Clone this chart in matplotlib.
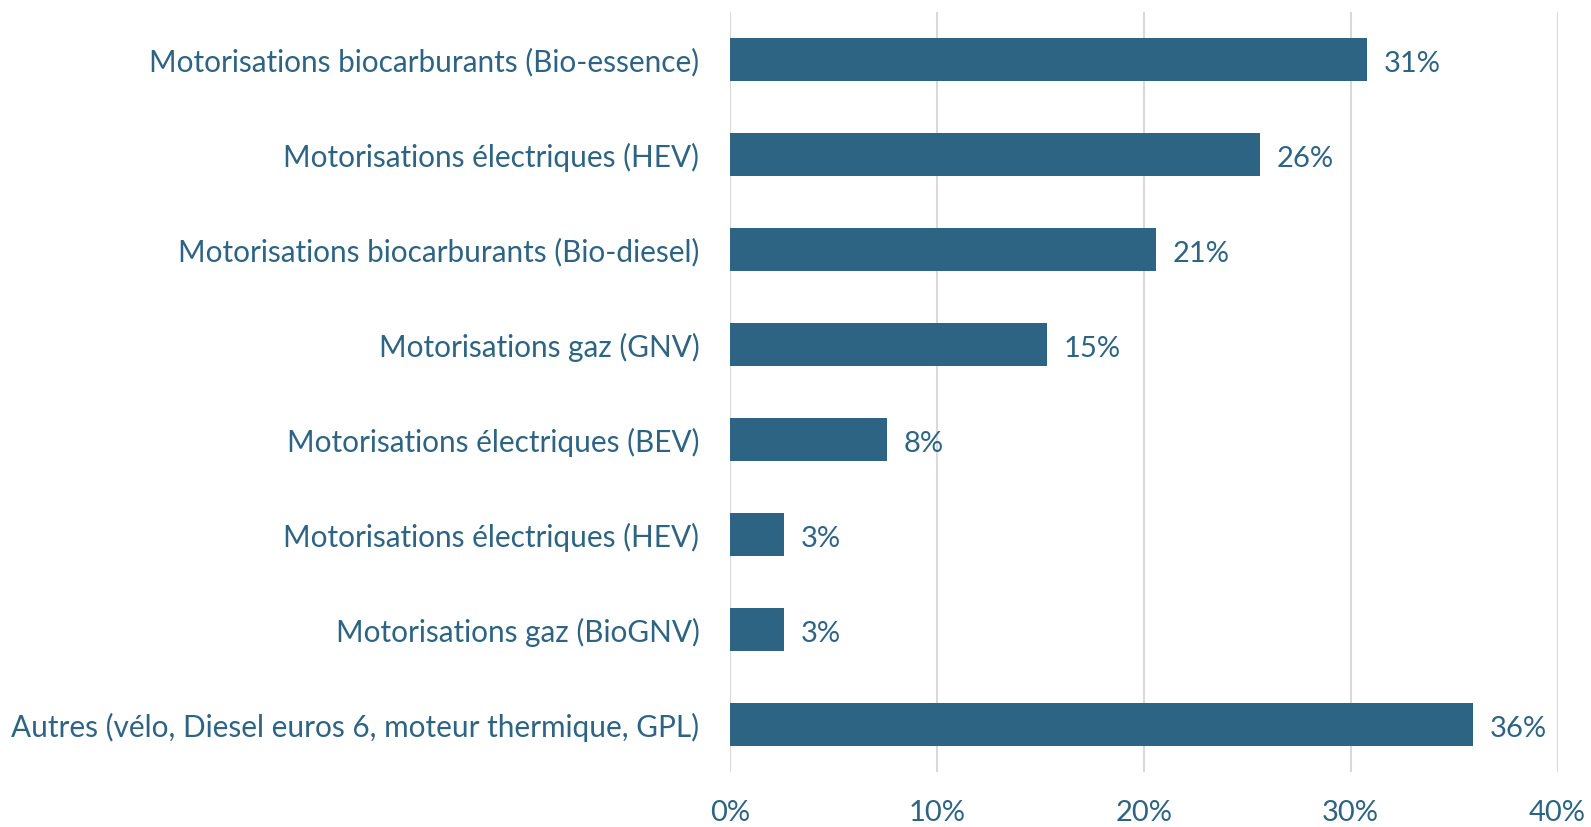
import matplotlib.pyplot as plt
import numpy as np

categories = [
    "Motorisations biocarburants (Bio-essence)",
    "Motorisations électriques (HEV)",
    "Motorisations biocarburants (Bio-diesel)",
    "Motorisations gaz (GNV)",
    "Motorisations électriques (BEV)",
    "Motorisations électriques (HEV)",
    "Motorisations gaz (BioGNV)",
    "Autres (vélo, Diesel euros 6, moteur thermique, GPL)",
]
values = [30.8, 25.6, 20.6, 15.3, 7.6, 2.6, 2.6, 35.9]
xticks = [0, 10, 20, 30, 40]

blue = '#2d6484'
plt.rcParams['font.family'] = ['Lato', 'DejaVu Sans']

fig = plt.figure(figsize=(15.91, 8.27), dpi=100)
ax = fig.add_axes([0.4588, 0.0665, 0.5202, 0.919])

y = np.arange(len(categories))
rects = ax.barh(y, values, height=0.45, color=blue, zorder=3)
labels = ax.bar_label(rects, labels=['{:.0f}%'.format(v) for v in values],
                      padding=12, color=blue, fontsize=21)
for t in labels:
    t.xyann = (12, -3.5)

ax.set_yticks(y, categories)
ax.set_ylim(len(categories) - 0.5, -0.5)
ax.set_xlim(0, 40)
ax.set_xticks(xticks, ['{}%'.format(t) for t in xticks])

ax.grid(axis='x', color='#d9d9d9', linewidth=1.5, zorder=0)
for s in ax.spines.values():
    s.set_visible(False)
ax.tick_params(axis='both', length=0, colors=blue, labelsize=21)
ax.tick_params(axis='y', pad=22, labelsize=21.4)
ax.tick_params(axis='x', pad=20)

plt.savefig('out.png')
